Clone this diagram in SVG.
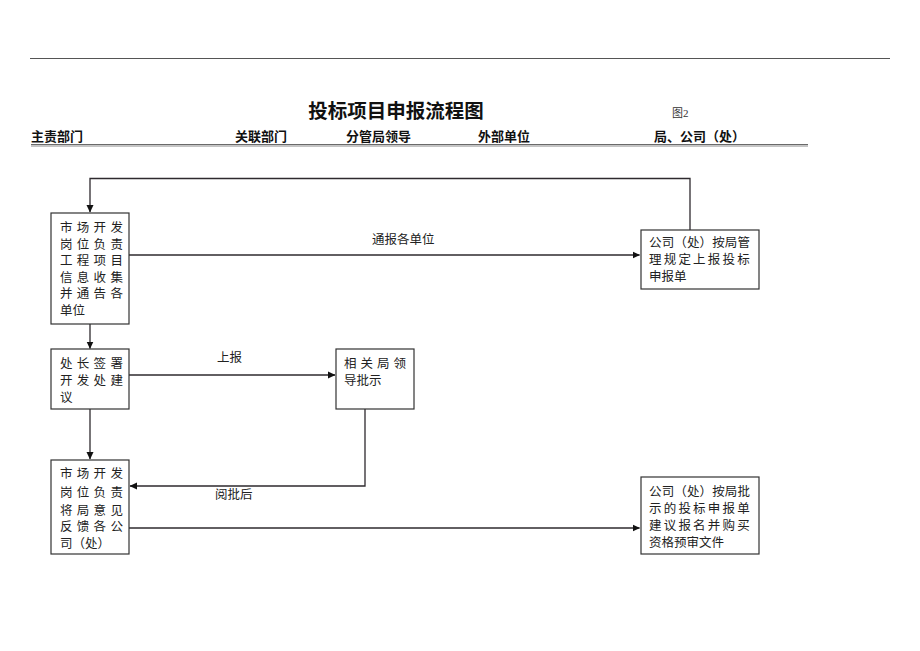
<svg xmlns="http://www.w3.org/2000/svg" width="920" height="651" viewBox="0 0 920 651">
<defs>
<style>
.t{font-family:"Liberation Serif","Noto Sans CJK SC",serif;font-size:12.5px;fill:#222;}
.h{font-family:"Liberation Sans","Noto Sans CJK SC",sans-serif;font-size:13px;font-weight:bold;fill:#111;}
.box{fill:#fff;stroke:#333;stroke-width:1.2;}
.ln{fill:none;stroke:#2e2a2e;stroke-width:1.3;}
.lbl{font-family:"Liberation Serif","Noto Sans CJK SC",serif;font-size:12.5px;fill:#222;}
</style>
<marker id="ah" markerWidth="8" markerHeight="8" refX="7" refY="4" orient="auto" markerUnits="userSpaceOnUse">
<path d="M0,0.5 L7.5,4 L0,7.5 Z" fill="#111"/>
</marker>
</defs>
<rect width="920" height="651" fill="#fff"/>
<line x1="30" y1="58.5" x2="890" y2="58.5" stroke="#555" stroke-width="1.2"/>
<text x="396" y="118" text-anchor="middle" font-family="Liberation Sans,'Noto Sans CJK SC',sans-serif" font-size="19.5" font-weight="bold" fill="#111">投标项目申报流程图</text>
<text x="672" y="117" font-family="Liberation Serif,'Noto Sans CJK SC',serif" font-size="11" fill="#333">图2</text>
<g id="header">
<text class="h" x="31" y="141">主责部门</text>
<text class="h" x="235" y="141">关联部门</text>
<text class="h" x="346" y="141">分管局领导</text>
<text class="h" x="478" y="141">外部单位</text>
<text class="h" x="654" y="141">局、公司（处）</text>
<line x1="31" y1="144.5" x2="808" y2="144.5" stroke="#6a6a6a" stroke-width="1"/>
<line x1="31" y1="146" x2="808" y2="146" stroke="#8a8a8a" stroke-width="1"/>
</g>
<g id="connectors">
<polyline class="ln" points="690,230 690,178.5 90,178.5 90,212" marker-end="url(#ah)"/>
<line class="ln" x1="129" y1="255" x2="639.5" y2="255" marker-end="url(#ah)" stroke="#3a2a3a"/>
<text class="lbl" x="372" y="244">通报各单位</text>
<line class="ln" x1="90" y1="324" x2="90" y2="348.5" marker-end="url(#ah)"/>
<line class="ln" x1="129" y1="375" x2="335" y2="375" marker-end="url(#ah)" stroke="#3a2a3a"/>
<text class="lbl" x="217" y="362">上报</text>
<polyline class="ln" points="365,409 365,486 130,486" marker-end="url(#ah)"/>
<text class="lbl" x="215" y="499">阅批后</text>
<line class="ln" x1="90" y1="409" x2="90" y2="459" marker-end="url(#ah)"/>
<line class="ln" x1="129" y1="528" x2="639.5" y2="528" marker-end="url(#ah)"/>
</g>
<g id="n1">
<rect class="box" x="51" y="213" width="78" height="111"/>
<text class="t" x="60" y="232" letter-spacing="4.3">市场开发</text>
<text class="t" x="60" y="248.5" letter-spacing="4.3">岗位负责</text>
<text class="t" x="60" y="265" letter-spacing="4.3">工程项目</text>
<text class="t" x="60" y="281.5" letter-spacing="4.3">信息收集</text>
<text class="t" x="60" y="298" letter-spacing="4.3">并通告各</text>
<text class="t" x="60" y="314.5">单位</text>
</g>
<g id="n2">
<rect class="box" x="641" y="230" width="118" height="59"/>
<text class="t" x="649" y="247" textLength="101" lengthAdjust="spacing">公司（处）按局管</text>
<text class="t" x="649" y="264" letter-spacing="2.2">理规定上报投标</text>
<text class="t" x="649" y="281">申报单</text>
</g>
<g id="n3">
<rect class="box" x="51" y="349" width="78" height="60"/>
<text class="t" x="60" y="368" letter-spacing="4.3">处长签署</text>
<text class="t" x="60" y="385" letter-spacing="4.3">开发处建</text>
<text class="t" x="60" y="402">议</text>
</g>
<g id="n4">
<rect class="box" x="336" y="349" width="78" height="60"/>
<text class="t" x="344" y="368" letter-spacing="4">相关局领</text>
<text class="t" x="344" y="385">导批示</text>
</g>
<g id="n5">
<rect class="box" x="51" y="460" width="78" height="94"/>
<text class="t" x="60" y="478" letter-spacing="4.3">市场开发</text>
<text class="t" x="60" y="497" letter-spacing="4.3">岗位负责</text>
<text class="t" x="60" y="514.5" letter-spacing="4.3">将局意见</text>
<text class="t" x="60" y="531" letter-spacing="4.3">反馈各公</text>
<text class="t" x="60" y="548">司（处）</text>
</g>
<g id="n6">
<rect class="box" x="641" y="477" width="118" height="77"/>
<text class="t" x="649" y="496" textLength="101" lengthAdjust="spacing">公司（处）按局批</text>
<text class="t" x="649" y="513" letter-spacing="2.2">示的投标申报单</text>
<text class="t" x="649" y="530" letter-spacing="2.2">建议报名并购买</text>
<text class="t" x="649" y="547">资格预审文件</text>
</g>
</svg>
